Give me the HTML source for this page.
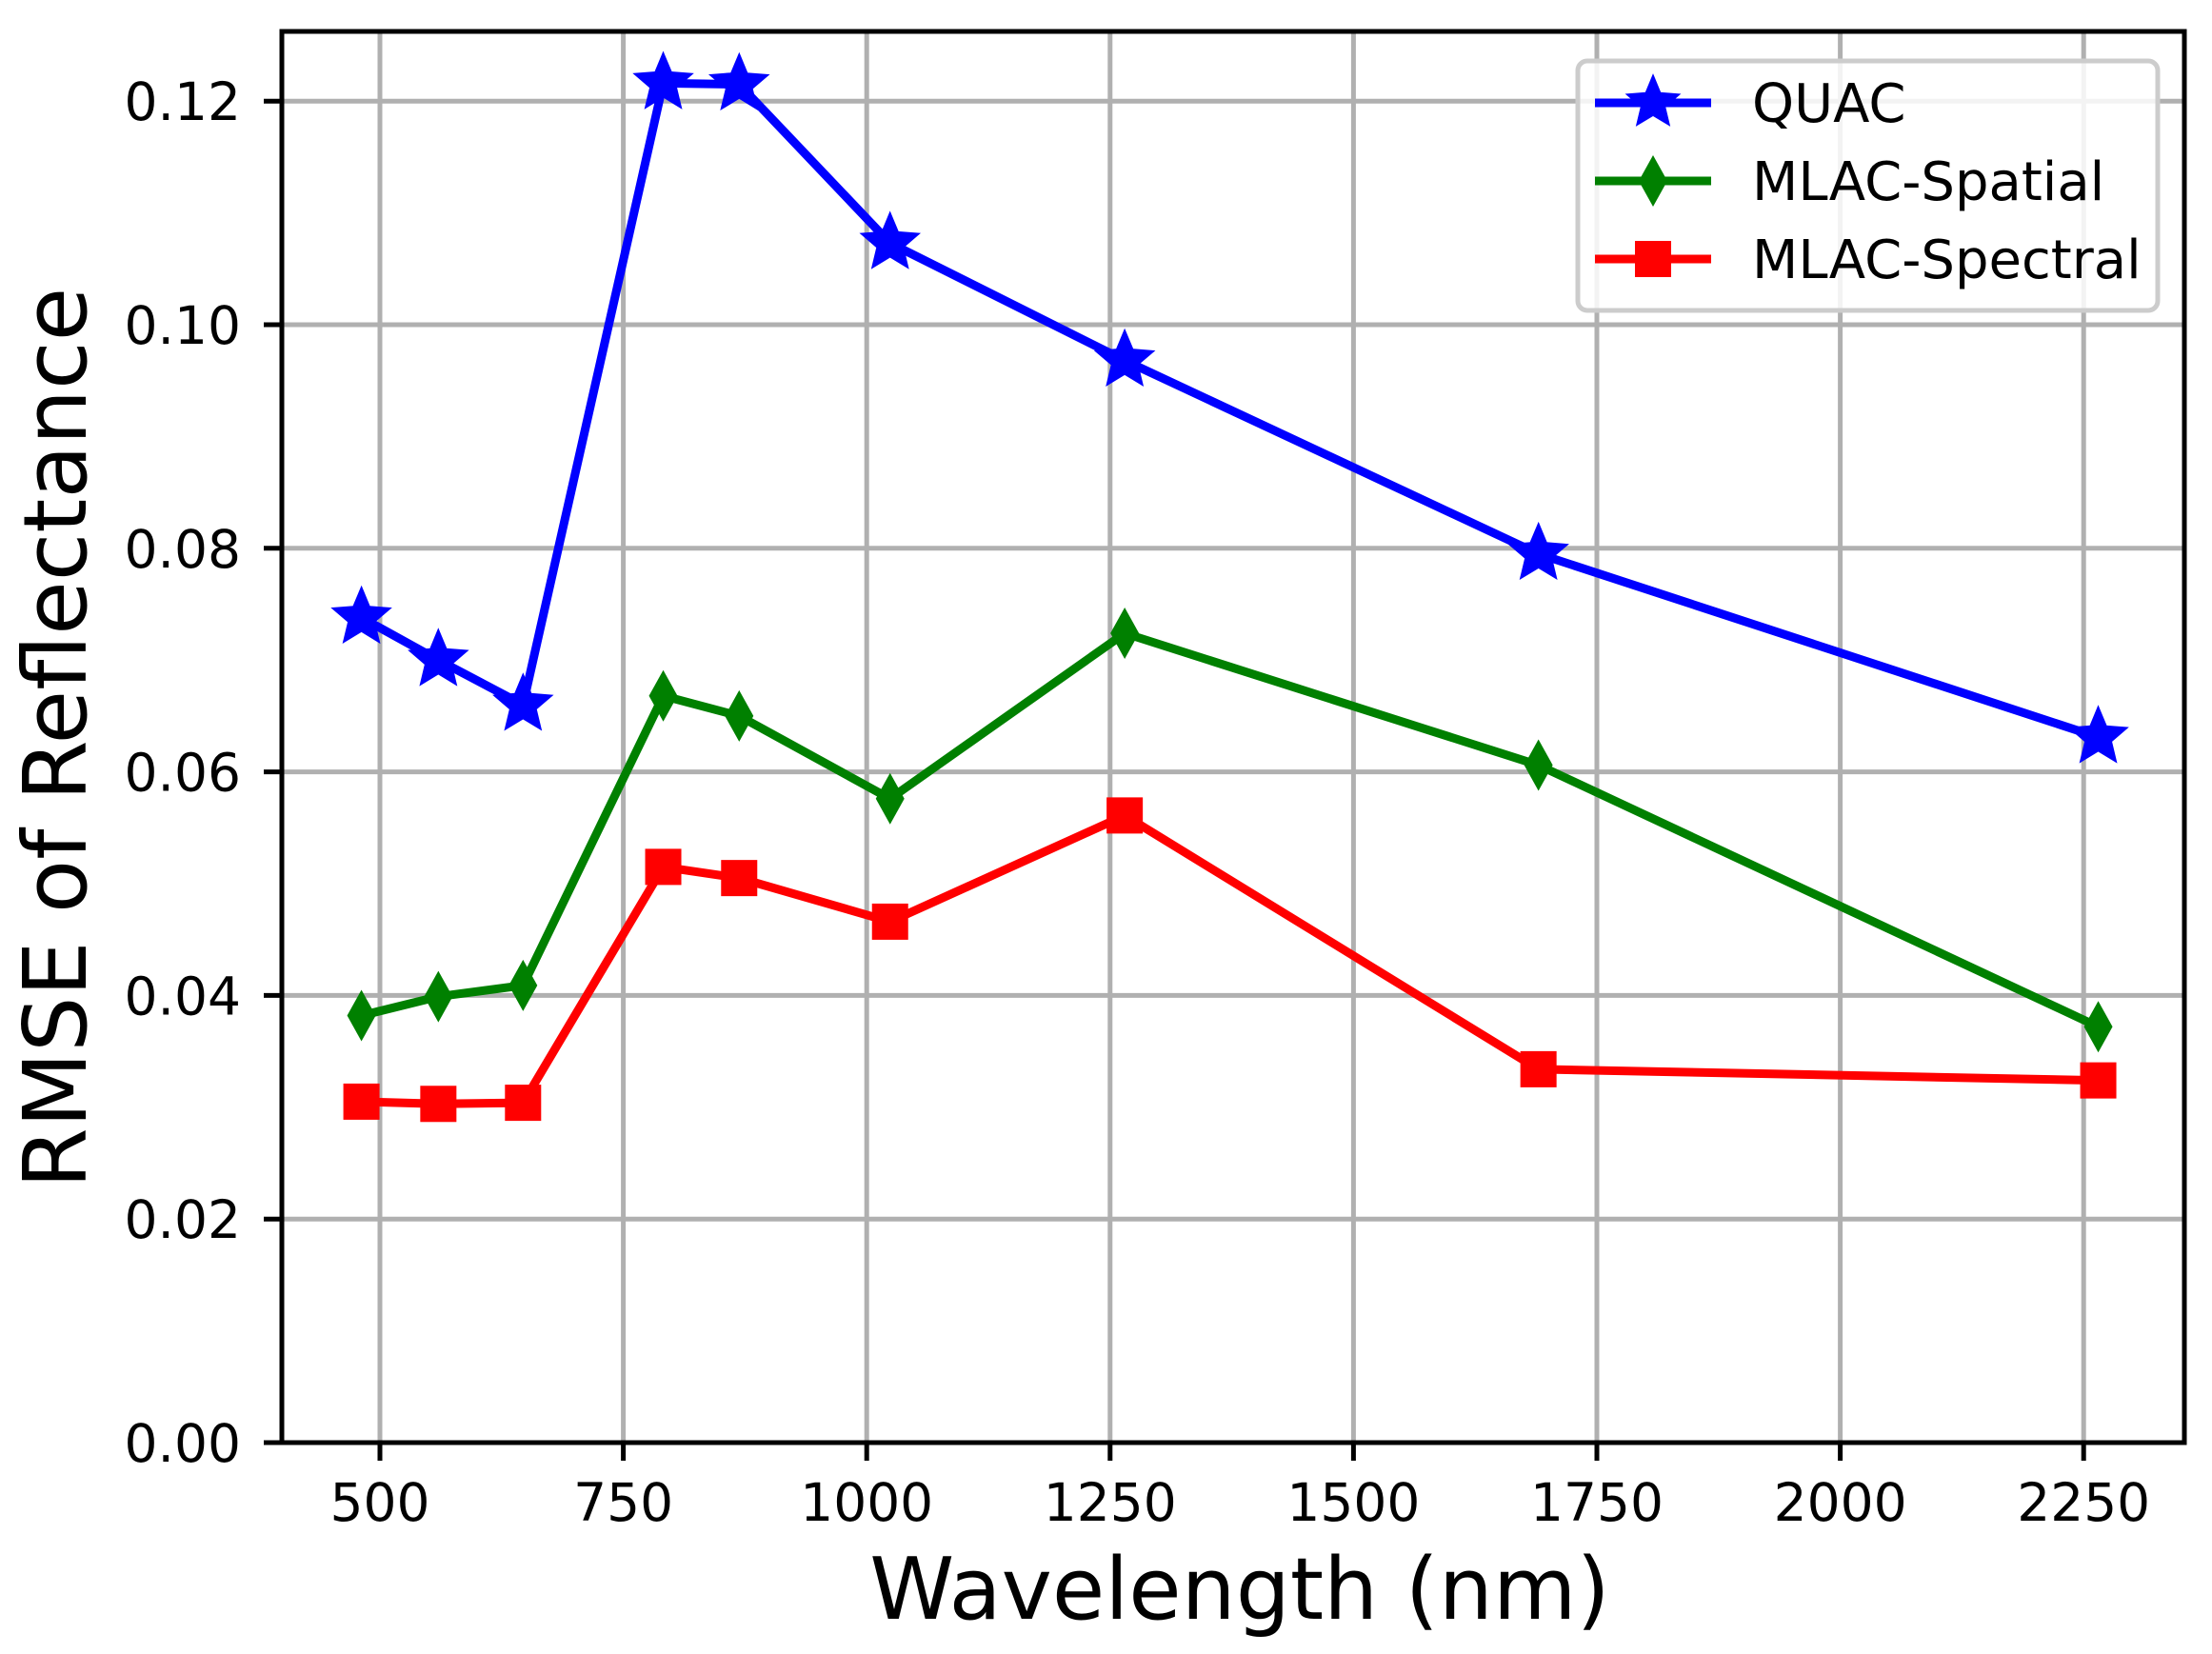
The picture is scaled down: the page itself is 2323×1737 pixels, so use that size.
<!DOCTYPE html>
<html><head><meta charset="utf-8"><style>
html,body{margin:0;padding:0;background:#fff;width:2323px;height:1737px;overflow:hidden}
text{font-family:"DejaVu Sans","Liberation Sans",sans-serif}
</style></head><body>
<svg id="s" width="2323" height="1737" xmlns="http://www.w3.org/2000/svg"></svg>
<script>
const s=document.getElementById('s');
const L=296,R=2294,T=33,B=1515;
const X=v=>399+(v-500)*1.0224, Y=v=>B-v*11740;
let h='';
[500,750,1000,1250,1500,1750,2000,2250].forEach(v=>{const x=X(v);h+=`<line x1="${x}" y1="${T}" x2="${x}" y2="${B}" stroke="#b0b0b0" stroke-width="5"/>`;
h+=`<line x1="${x}" y1="${B}" x2="${x}" y2="${B+19}" stroke="#000" stroke-width="5"/>`;
h+=`<text x="${x}" y="${B+82}" font-size="55" text-anchor="middle">${v}</text>`;});
for(let i=0;i<=6;i++){const v=i*0.02,y=Y(v);if(i>0)h+=`<line x1="${L}" y1="${y}" x2="${R}" y2="${y}" stroke="#b0b0b0" stroke-width="5"/>`;
h+=`<line x1="${L-19}" y1="${y}" x2="${L}" y2="${y}" stroke="#000" stroke-width="5"/>`;
h+=`<text x="${L-43}" y="${y+20}" font-size="55" text-anchor="end">${v.toFixed(2)}</text>`;}
const xs=[481,560,647,791,869,1024,1265,1690,2265];
const q=[0.0738,0.0700,0.0660,0.1216,0.1215,0.1073,0.0968,0.0795,0.0631];
const sp=[0.0382,0.0399,0.0409,0.0668,0.0650,0.0576,0.0724,0.0606,0.0372];
const sc=[0.0305,0.0303,0.0304,0.0515,0.0505,0.0466,0.0561,0.0334,0.0324];
function star(cx,cy,r,c){let p=[];for(let i=0;i<10;i++){const a=-Math.PI/2+i*Math.PI/5,rr=i%2?r*0.45:r;p.push((cx+rr*Math.cos(a)).toFixed(1)+','+(cy+rr*Math.sin(a)).toFixed(1));}return `<polygon points="${p.join(' ')}" fill="${c}" stroke="${c}" stroke-width="3"/>`;}
function dia(cx,cy,c){return `<polygon points="${cx},${cy-27} ${cx+15},${cy} ${cx},${cy+27} ${cx-15},${cy}" fill="${c}"/>`;}
function sq(cx,cy,c){return `<rect x="${cx-19}" y="${cy-19}" width="38" height="38" fill="${c}"/>`;}
function series(d,c,m){h+=`<polyline points="${xs.map((x,i)=>X(x)+','+Y(d[i])).join(' ')}" fill="none" stroke="${c}" stroke-width="9" stroke-linejoin="round"/>`;
xs.forEach((x,i)=>h+=m(X(x),Y(d[i]),c));}
series(q,'#0000ff',(x,y,c)=>star(x,y,30,c));
series(sp,'#008000',dia);
series(sc,'#ff0000',sq);
h+=`<rect x="${L}" y="${T}" width="${R-L}" height="${B-T}" fill="none" stroke="#000" stroke-width="5"/>`;
h+=`<rect x="1657" y="64" width="609" height="262" rx="10" fill="#fff" fill-opacity="0.85" stroke="#cccccc" stroke-width="5"/>`;
const ly=[108,190,272],lc=['#0000ff','#008000','#ff0000'],lt=['QUAC','MLAC-Spatial','MLAC-Spectral'];
for(let i=0;i<3;i++){h+=`<line x1="1675" y1="${ly[i]}" x2="1797" y2="${ly[i]}" stroke="${lc[i]}" stroke-width="9"/>`;
h+= i==0?star(1736,ly[i],27,lc[0]):i==1?dia(1736,ly[i],lc[1]):sq(1736,ly[i],lc[2]);
h+=`<text x="1840" y="${ly[i]+20}" font-size="56">${lt[i]}</text>`;}
h+=`<text x="1302" y="1700" font-size="90" text-anchor="middle">Wavelength (nm)</text>`;
h+=`<text transform="translate(90,775) rotate(-90)" font-size="92" text-anchor="middle">RMSE of Reflectance</text>`;
s.innerHTML=h;
</script>
</body></html>
